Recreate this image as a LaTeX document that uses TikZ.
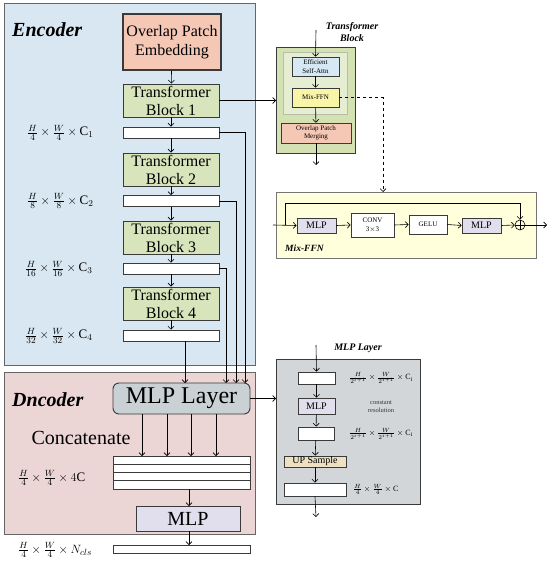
\documentclass[tikz,border=0pt]{standalone}
\usepackage{fontspec}
\setmainfont{Liberation Serif}
\usetikzlibrary{arrows.meta}
\definecolor{encbg}{HTML}{D8E7F1}
\definecolor{decbg}{HTML}{EBD5D5}
\definecolor{salmon}{HTML}{F5C8B6}
\definecolor{tbgreen}{HTML}{D8E4BC}
\definecolor{mlpgray}{HTML}{C9D1D5}
\definecolor{lav}{HTML}{E1DEEE}
\definecolor{tbouter}{HTML}{D3E1B3}
\definecolor{tbinner}{HTML}{E5EED2}
\definecolor{effblue}{HTML}{D6E8F3}
\definecolor{mixyel}{HTML}{F8F4A8}
\definecolor{ffnbg}{HTML}{FFFFDC}
\definecolor{layergray}{HTML}{D3D6D9}
\definecolor{upsamp}{HTML}{EDE1C2}
\definecolor{edge}{HTML}{3A3A3A}
\begin{document}
\begin{tikzpicture}[x=1pt,y=-1pt,
  arr/.style={-{Straight Barb[length=3pt,width=6pt]},line width=0.6pt,draw=black},
  ln/.style={line width=0.6pt,draw=black},
  box/.style={draw=edge,line width=0.9pt,inner sep=0pt,align=center},
  bar/.style={draw=edge,line width=0.8pt,fill=white,inner sep=0pt},
  lab/.style={anchor=west,inner sep=0pt,font=\fontsize{13}{15}\selectfont},
  small/.style={font=\fontsize{7}{8.5}\selectfont},
  ttl/.style={font=\bfseries\itshape\fontsize{20}{22}\selectfont,inner sep=0pt,anchor=west}]
\useasboundingbox (0,0) rectangle (550,564);
\fill[white] (0,0) rectangle (550,564);
% backgrounds
\draw[draw=gray!80!black,line width=0.9pt,fill=encbg] (4,3) rectangle (255,365);
\draw[draw=gray!80!black,line width=0.9pt,fill=decbg] (4,372) rectangle (255,534);
\node[ttl] (enc) at (12,30) {Encoder};
\node[ttl] (dec) at (12,400) {Dncoder};
% encoder column
\node[box,line width=1.4pt,fill=salmon,minimum width=98pt,minimum height=56pt,font=\fontsize{16}{19}\selectfont] (ope) at (172,42) {Overlap Patch\\Embedding};
\node[box,fill=tbgreen,minimum width=96pt,minimum height=33pt,font=\fontsize{16}{18}\selectfont] (tb1) at (171,100.5) {Transformer\\Block 1};
\node[bar,minimum width=96pt,minimum height=11pt] (b1) at (171,132.5) {};
\node[box,fill=tbgreen,minimum width=96pt,minimum height=33pt,font=\fontsize{16}{18}\selectfont] (tb2) at (171,169.5) {Transformer\\Block 2};
\node[bar,minimum width=96pt,minimum height=11pt] (b2) at (171,201) {};
\node[box,fill=tbgreen,minimum width=96pt,minimum height=33pt,font=\fontsize{16}{18}\selectfont] (tb3) at (171,237.5) {Transformer\\Block 3};
\node[bar,minimum width=96pt,minimum height=11pt] (b3) at (171,268.5) {};
\node[box,fill=tbgreen,minimum width=96pt,minimum height=33pt,font=\fontsize{16}{18}\selectfont] (tb4) at (171,303.5) {Transformer\\Block 4};
\node[bar,minimum width=96pt,minimum height=11pt] (b4) at (171,335.5) {};
\draw[arr] (ope) -- (tb1);
\draw[arr] (tb1) -- (b1);
\draw[arr] (b1) -- (tb2);
\draw[arr] (tb2) -- (b2);
\draw[arr] (b2) -- (tb3);
\draw[arr] (tb3) -- (b3);
\draw[arr] (b3) -- (tb4);
\draw[arr] (tb4) -- (b4);
\node[lab] (l1) at (27,132.5) {$\frac{H}{4}\times\frac{W}{4}\times\mathrm{C}_1$};
\node[lab] (l2) at (27,201) {$\frac{H}{8}\times\frac{W}{8}\times\mathrm{C}_2$};
\node[lab] (l3) at (25,268.5) {$\frac{H}{16}\times\frac{W}{16}\times\mathrm{C}_3$};
\node[lab] (l4) at (25,335.5) {$\frac{H}{32}\times\frac{W}{32}\times\mathrm{C}_4$};
% decoder
\node[box,rounded corners=6pt,fill=mlpgray,minimum width=137pt,minimum height=31pt,font=\fontsize{24}{26}\selectfont] (mlpl) at (181.5,398.5) {MLP Layer};
\draw[arr] (b1.east) -- (245,132.5) -- (245,383);
\draw[arr] (b2.east) -- (236,201) -- (236,383);
\draw[arr] (b3.east) -- (226,268.5) -- (226,383);
\draw[arr] (185,341) -- (185,383);
\node[inner sep=0pt,font=\fontsize{20}{22}\selectfont] (cat) at (81,438) {Concatenate};
\node[bar,minimum width=137pt,minimum height=33pt] (cc) at (181.5,472.5) {};
\draw[edge,line width=0.8pt] (113,464.25) -- (250,464.25) (113,472.5) -- (250,472.5) (113,480.75) -- (250,480.75);
\foreach \xx in {142,167,191,216}{\draw[arr] (\xx,414) -- (\xx,456);}
\node[lab] (l5) at (18,478) {$\frac{H}{4}\times\frac{W}{4}\times 4\mathrm{C}$};
\node[box,fill=lav,minimum width=104pt,minimum height=25pt,font=\fontsize{20}{22}\selectfont] (mlp2) at (188,518.5) {MLP};
\node[bar,minimum width=137pt,minimum height=8pt] (out) at (181.5,549) {};
\draw[arr] (189,489) -- (189,506);
\draw[arr] (189,531) -- (189,545);
\node[lab] (l6) at (18,550) {$\frac{H}{4}\times\frac{W}{4}\times N_{cls}$};
% transformer block detail
\draw[draw=edge,line width=0.9pt,fill=tbouter] (276,47) rectangle (355,153);
\fill[tbinner,draw=tbinner!80!black,line width=0.3pt] (283,52) rectangle (347,114);
\node[box,line width=0.6pt,fill=effblue,minimum width=47pt,minimum height=19pt,small] (eff) at (315.5,66.5) {Efficient\\Self-Attn};
\node[box,line width=0.6pt,fill=mixyel,minimum width=47pt,minimum height=19pt,small] (mix) at (315.5,97.5) {Mix-FFN};
\node[box,line width=0.6pt,fill=salmon,minimum width=70pt,minimum height=20pt,small] (opm) at (316,133) {Overlap Patch\\Merging};
\node[inner sep=0pt,align=center,font=\bfseries\itshape\fontsize{10}{12}\selectfont] (tbt) at (352,32) {Transformer\\Block};
\coordinate (tbin) at (316,30);
\coordinate (tbout) at (316,165);
\draw[arr] (tbin) -- (eff.north);
\draw[arr] (eff) -- (mix);
\draw[arr] (mix) -- (opm);
\draw[arr] (opm.south) -- (tbout);
\draw[arr] (tb1.east) -- (276,100.5);
% Mix-FFN detail
\draw[draw=edge!70,line width=0.8pt,fill=ffnbg] (276,192) rectangle (536,258);
\draw[ln,dashed,-{Straight Barb[length=3pt,width=6pt]}] (mix.east) -- (383,97.5) -- (383,192);
\node[box,line width=0.7pt,fill=lav,minimum width=39pt,minimum height=15pt,font=\fontsize{10}{11}\selectfont] (m1) at (316.5,225.5) {MLP};
\node[box,line width=0.7pt,fill=white,minimum width=43pt,minimum height=24pt,small] (conv) at (372.5,225) {CONV\\3$\times$3};
\node[box,line width=0.7pt,fill=white,minimum width=38pt,minimum height=19pt,small] (gelu) at (428,224.5) {GELU};
\node[box,line width=0.7pt,fill=lav,minimum width=39pt,minimum height=15pt,font=\fontsize{10}{11}\selectfont] (m2) at (481.5,225.5) {MLP};
\node[draw=black,line width=0.6pt,circle,minimum size=10pt,inner sep=0pt] (plus) at (520,225) {};
\draw[line width=0.6pt] (plus.north) -- (plus.south) (plus.west) -- (plus.east);
\coordinate (fin) at (273,225);
\coordinate (fout) at (547,225);
\draw[arr] (fin) -- (m1.west);
\draw[arr] (m1.east) -- (conv.west);
\draw[arr] (conv.east) -- (gelu.west);
\draw[arr] (gelu.east) -- (m2.west);
\draw[arr] (m2.east) -- (plus.west);
\draw[arr] (plus.east) -- (fout);
\draw[arr] (285,225) -- (285,203) -- (520,203) -- (plus.north);
\node[inner sep=0pt,anchor=west,font=\bfseries\itshape\fontsize{9.5}{10}\selectfont] (mft) at (285,248) {Mix-FFN};
% MLP layer detail
\draw[draw=edge,line width=0.9pt,fill=layergray] (276,359) rectangle (420,504);
\node[inner sep=0pt,font=\bfseries\itshape\fontsize{10}{11}\selectfont] (mlt) at (358,348) {MLP Layer};
\node[bar,minimum width=37pt,minimum height=12pt] (r1) at (316.5,378) {};
\node[box,line width=0.7pt,fill=lav,minimum width=37pt,minimum height=16pt,font=\fontsize{10}{11}\selectfont] (rm) at (316.5,406) {MLP};
\node[bar,minimum width=36pt,minimum height=13pt] (r2) at (316,433.5) {};
\node[box,line width=0.7pt,fill=upsamp,minimum width=62pt,minimum height=11pt,font=\fontsize{10}{11}\selectfont] (up) at (315,461.5) {UP Sample};
\node[bar,minimum width=62pt,minimum height=13pt] (r3) at (315,489.5) {};
\coordinate (lin) at (316,345);
\coordinate (lout) at (316,517);
\draw[arr] (lin) -- (r1.north);
\draw[arr] (r1) -- (rm);
\draw[arr] (rm) -- (r2);
\draw[arr] (r2) -- (up);
\draw[arr] (up) -- (r3);
\draw[arr] (r3.south) -- (lout);
\draw[arr] (mlpl.east) -- (276,398.5);
\node[inner sep=0pt,font=\fontsize{8}{9}\selectfont] (e1) at (381,378) {$\frac{H}{2^{i+1}}\times\frac{W}{2^{i+1}}\times\mathrm{C_i}$};
\node[inner sep=0pt,align=center,font=\fontsize{6.5}{8}\selectfont,text=black!80] (cr) at (381,407) {constant\\resolution};
\node[inner sep=0pt,font=\fontsize{8}{9}\selectfont] (e2) at (381,433.5) {$\frac{H}{2^{i+1}}\times\frac{W}{2^{i+1}}\times\mathrm{C_i}$};
\node[inner sep=0pt,anchor=west,font=\fontsize{8}{9}\selectfont] (e3) at (353,489.5) {$\frac{H}{4}\times\frac{W}{4}\times\mathrm{C}$};
\end{tikzpicture}
\end{document}
